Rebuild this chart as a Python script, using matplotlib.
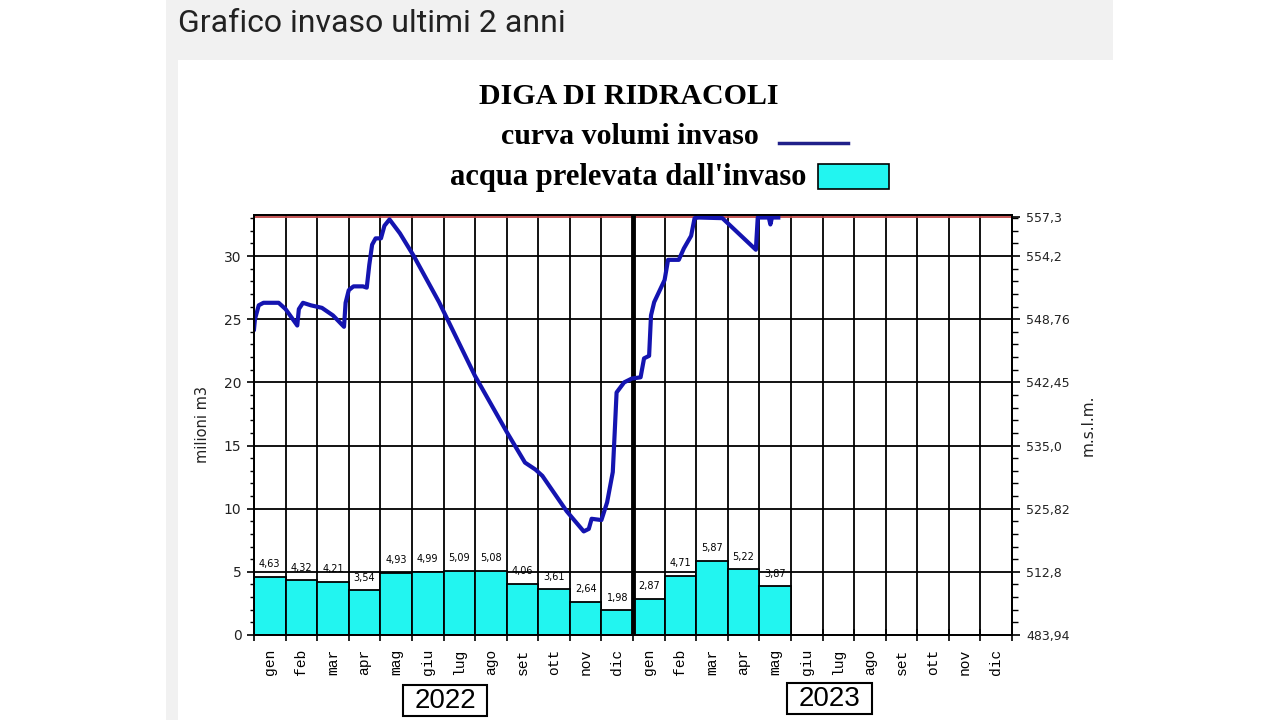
import numpy as np
import matplotlib
matplotlib.use('Agg')
import matplotlib.pyplot as plt
from matplotlib.patches import Rectangle
from matplotlib.lines import Line2D
from matplotlib.ticker import FixedLocator, MultipleLocator, NullFormatter

# ---------------- data ----------------
months = ['gen', 'feb', 'mar', 'apr', 'mag', 'giu', 'lug', 'ago', 'set', 'ott', 'nov', 'dic'] * 2
years = ['2022', '2023']
prelievi = [4.63, 4.32, 4.21, 3.54, 4.93, 4.99, 5.09, 5.08, 4.06, 3.61, 2.64, 1.98,
            2.87, 4.71, 5.87, 5.22, 3.87]
vol_t = [0, 0.03, 0.15, 0.3, 0.78, 1.0, 1.37, 1.42, 1.55, 1.8, 2.15, 2.5, 2.85, 2.9, 3.0,
         3.15, 3.45, 3.57, 3.65, 3.74, 3.85, 4.02, 4.13, 4.29, 4.62, 5.06, 5.86, 7.0, 8.02,
         8.58, 8.91, 9.13, 9.9, 10.44, 10.6, 10.69, 11.0, 11.18, 11.36, 11.42, 11.48, 11.72,
         11.96, 12.24, 12.35, 12.51, 12.57, 12.67, 13.0, 13.11, 13.45, 13.61, 13.84, 13.95,
         14.08, 14.83, 15.89, 15.95, 16.3, 16.35, 16.4, 16.6]
vol_v = [24.2, 25.0, 26.1, 26.3, 26.3, 25.8, 24.5, 25.8, 26.3, 26.1, 25.9, 25.3, 24.4, 26.3,
         27.3, 27.6, 27.6, 27.5, 29.3, 30.9, 31.4, 31.4, 32.4, 32.9, 31.8, 30.0, 26.35, 20.5,
         16.0, 13.65, 13.1, 12.6, 9.8, 8.2, 8.4, 9.2, 9.1, 10.5, 12.9, 16.0, 19.2, 20.0, 20.3,
         20.4, 21.9, 22.1, 25.3, 26.35, 28.1, 29.7, 29.7, 30.6, 31.6, 33.0, 33.05, 33.0, 30.5,
         33.05, 33.05, 32.5, 33.05, 33.05]
left_ticks = [0, 5, 10, 15, 20, 25, 30]
right_pos = [0, 5, 10, 15, 20, 25, 30, 33.1]
right_labels = ['483,94', '512,8', '525,82', '535,0', '542,45', '548,76', '554,2', '557,3']
max_level = 33.1

# ---------------- figure ----------------
W, H = 1280, 720
fig = plt.figure(figsize=(12.8, 7.2), dpi=100)
fig.patch.set_facecolor('white')

def fx(x):
    return x / W

def fy(y):
    return 1 - y / H

# page header / frame
fig.patches.append(Rectangle((fx(166), fy(60)), fx(1113) - fx(166), 60 / H,
                             transform=fig.transFigure, facecolor='#f1f1f1', edgecolor='none', zorder=0))
fig.patches.append(Rectangle((fx(166), 0), fx(178) - fx(166), fy(60),
                             transform=fig.transFigure, facecolor='#f1f1f1', edgecolor='none', zorder=0))
fig.text(fx(178), fy(24), 'Grafico invaso ultimi 2 anni', fontsize=23, family='Roboto',
         color='#222222', ha='left', va='center')

# titles / legend
serif = 'Liberation Serif'
fig.text(fx(629), fy(97), 'DIGA DI RIDRACOLI', fontsize=21.5, family=serif, weight='bold',
         ha='center', va='center')
fig.text(fx(759), fy(137), 'curva volumi invaso', fontsize=21.5, family=serif, weight='bold',
         ha='right', va='center')
fig.lines.append(Line2D([fx(779), fx(848)], [fy(143), fy(143)], transform=fig.transFigure,
                        color='#20208a', lw=2.5))
fig.text(fx(806), fy(177), "acqua prelevata dall'invaso", fontsize=22, family=serif, weight='bold',
         ha='right', va='center')
fig.patches.append(Rectangle((fx(818), fy(189)), fx(889) - fx(818), 25 / H,
                             transform=fig.transFigure, facecolor='#22f5f0', edgecolor='black', lw=1.2))

# ---------------- axes ----------------
ax = fig.add_axes([fx(254), fy(635), fx(1012) - fx(254), (635 - 215) / H])
ax.set_xlim(0, 24)
ax.set_ylim(0, 33.25)

# grid
for m in range(25):
    ax.axvline(m, color='black', lw=1.3, zorder=1)
for v in left_ticks[1:]:
    ax.axhline(v, color='black', lw=1.3, zorder=1)
ax.axhline(max_level, color='#c04848', lw=1.3, zorder=1)

# bars
xb = np.arange(len(prelievi)) + 0.5
ax.bar(xb, prelievi, width=1.0, color='#22f5f0', edgecolor='black', lw=1.3, zorder=2)
for x, v in zip(xb, prelievi):
    ax.text(x, v + 0.75, f'{v:.2f}'.replace('.', ','), ha='center', va='baseline',
            fontsize=7, family='DejaVu Sans', zorder=5)

# year separator
ax.axvline(12, color='black', lw=3.5, zorder=3)

# volume curve
ax.plot(vol_t, vol_v, color='#1414b0', lw=3, zorder=4, solid_joinstyle='round')

# spines
for s in ax.spines.values():
    s.set_linewidth(1.3)
    s.set_color('black')

# left axis
ax.yaxis.set_major_locator(FixedLocator(left_ticks))
ax.yaxis.set_minor_locator(MultipleLocator(1))
ax.set_yticklabels([str(t) for t in left_ticks])
ax.tick_params(axis='y', which='major', length=5, width=1.2, pad=4, labelsize=10)
ax.tick_params(axis='y', which='minor', length=3, width=1.0)
for lab in ax.get_yticklabels():
    lab.set_family('DejaVu Sans')
    lab.set_color('#222222')
ax.set_ylabel('milioni m3', fontsize=10.5, family='DejaVu Sans', labelpad=10, color='#222222')

# x axis: ticks at month boundaries, labels at centers
ax.xaxis.set_major_locator(FixedLocator(range(25)))
ax.xaxis.set_major_formatter(NullFormatter())
ax.xaxis.set_minor_locator(FixedLocator(np.arange(24) + 0.5))
ax.set_xticklabels(months, minor=True)
ax.tick_params(axis='x', which='major', direction='inout', length=9, width=1.2)
ax.tick_params(axis='x', which='minor', length=0, pad=10, labelsize=10.5, labelrotation=90)
for lab in ax.xaxis.get_minorticklabels():
    lab.set_family('Liberation Mono')
    lab.set_va('top')

# right axis
ax2 = ax.twinx()
ax2.set_ylim(ax.get_ylim())
ax2.yaxis.set_major_locator(FixedLocator(right_pos))
ax2.yaxis.set_minor_locator(MultipleLocator(1))
ax2.set_yticklabels(right_labels)
ax2.tick_params(axis='y', which='major', length=6, width=1.2, pad=4, labelsize=9)
ax2.tick_params(axis='y', which='minor', length=4, width=1.0)
for lab in ax2.get_yticklabels():
    lab.set_family('DejaVu Sans')
    lab.set_color('#222222')
ax2.set_ylabel('m.s.l.m.', fontsize=11, family='DejaVu Sans', labelpad=8, color='#222222')
for s in ax2.spines.values():
    s.set_linewidth(1.3)

# year boxes
for (x0, y0, x1, y1), yr in zip([(403, 685, 487, 716), (787, 683, 872, 714)], years):
    fig.patches.append(Rectangle((fx(x0), fy(y1)), fx(x1) - fx(x0), (y1 - y0) / H,
                                 transform=fig.transFigure, facecolor='white',
                                 edgecolor='black', lw=1.5))
    fig.text(fx((x0 + x1) / 2), fy((y0 + y1) / 2 + 1), yr, fontsize=20, family='Liberation Sans',
             ha='center', va='center')

fig.savefig('out.png', dpi=100)
